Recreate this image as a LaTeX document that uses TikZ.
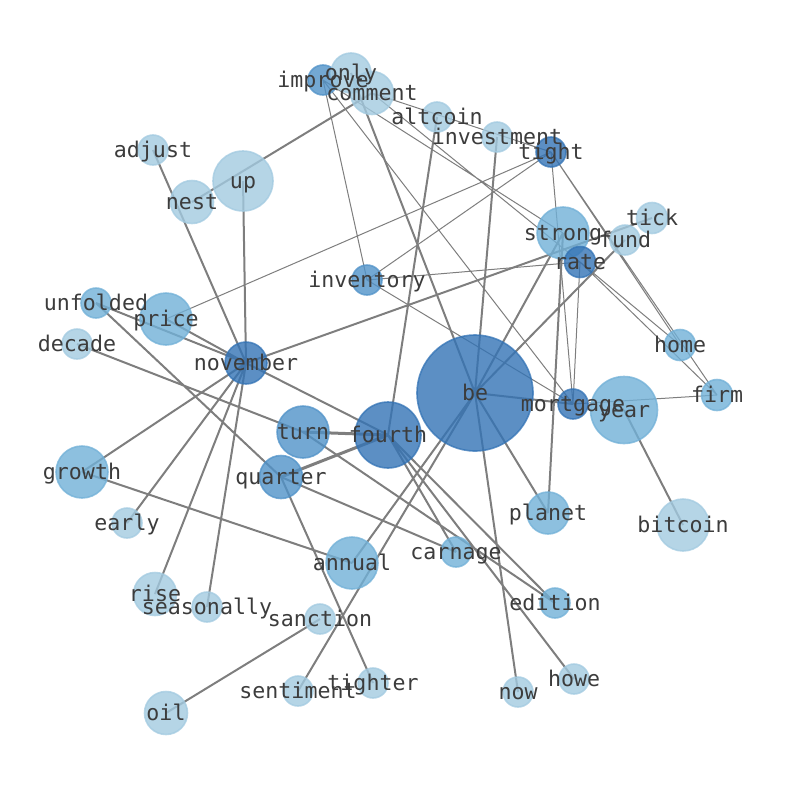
\documentclass[tikz,border=0pt]{standalone}
\usepackage{fontspec}
\usepackage{xcolor}
\usepackage{tikz}
\usetikzlibrary{backgrounds}
\newfontfamily\labelfont{DejaVu Sans Mono}

\definecolor{paleblue}{RGB}{162,202,224}
\definecolor{softblue}{RGB}{113,176,215}
\definecolor{deepblue}{RGB}{80,146,200}
\definecolor{darkblue}{RGB}{51,115,181}
\definecolor{edgegray}{RGB}{126,126,126}
\definecolor{labelgray}{RGB}{60,60,60}

\begin{document}
\begin{tikzpicture}[x=1pt, y=-1pt,
  word/.style={circle, inner sep=0pt, line width=1.6pt, fill opacity=0.8, draw opacity=0.75},
  pale/.style={word, fill=paleblue, draw=paleblue},
  soft/.style={word, fill=softblue, draw=softblue},
  deep/.style={word, fill=deepblue, draw=deepblue},
  dark/.style={word, fill=darkblue, draw=darkblue},
  tag/.style={font=\labelfont\fontsize{21.6}{24}\selectfont, text=labelgray, inner sep=0pt, text height=0.76em, text depth=0.24em, yshift=-5pt},
  thinedge/.style={edgegray, line width=1pt},
  thickedge/.style={edgegray, line width=2pt},
  heavyedge/.style={edgegray, line width=3pt}]
  \useasboundingbox (0,0) rectangle (794,790);

  % word circles
  \node [deep, minimum size=30] (improve) at (323,80) {};
  \node [pale, minimum size=40] (only) at (351,73) {};
  \node [pale, minimum size=43] (comment) at (372,93) {};
  \node [pale, minimum size=30] (altcoin) at (437,117) {};
  \node [pale, minimum size=30] (investment) at (497,137) {};
  \node [dark, minimum size=30] (tight) at (551,152) {};
  \node [pale, minimum size=30] (adjust) at (153,150) {};
  \node [pale, minimum size=60] (up) at (243,181) {};
  \node [pale, minimum size=43] (nest) at (192,202) {};
  \node [pale, minimum size=31] (tick) at (652,218) {};
  \node [pale, minimum size=30] (fund) at (625,240) {};
  \node [soft, minimum size=52] (strong) at (563,233) {};
  \node [dark, minimum size=31] (rate) at (580,262) {};
  \node [deep, minimum size=30] (inventory) at (367,280) {};
  \node [soft, minimum size=30] (unfolded) at (96,303) {};
  \node [soft, minimum size=52] (price) at (166,319) {};
  \node [pale, minimum size=30] (decade) at (77,344) {};
  \node [dark, minimum size=42] (november) at (246,363) {};
  \node [soft, minimum size=31] (home) at (680,345) {};
  \node [dark, minimum size=116] (be) at (475,393) {};
  \node [dark, minimum size=30] (mortgage) at (573,404) {};
  \node [soft, minimum size=67] (year) at (624,410) {};
  \node [soft, minimum size=31] (firm) at (717,395) {};
  \node [deep, minimum size=52] (turn) at (303,432) {};
  \node [dark, minimum size=66] (fourth) at (388,435) {};
  \node [soft, minimum size=52] (growth) at (82,472) {};
  \node [deep, minimum size=43] (quarter) at (281,477) {};
  \node [soft, minimum size=42] (planet) at (548,513) {};
  \node [pale, minimum size=52] (bitcoin) at (683,525) {};
  \node [pale, minimum size=30] (early) at (127,523) {};
  \node [soft, minimum size=30] (carnage) at (456,552) {};
  \node [soft, minimum size=52] (annual) at (352,563) {};
  \node [pale, minimum size=43] (rise) at (155,594) {};
  \node [pale, minimum size=30] (seasonally) at (207,607) {};
  \node [soft, minimum size=30] (edition) at (555,603) {};
  \node [pale, minimum size=30] (sanction) at (320,619) {};
  \node [pale, minimum size=30] (tighter) at (373,683) {};
  \node [pale, minimum size=30] (sentiment) at (298,691) {};
  \node [pale, minimum size=30] (now) at (518,692) {};
  \node [pale, minimum size=30] (howe) at (574,679) {};
  \node [pale, minimum size=43] (oil) at (166,713) {};

  % links, under the circles
  \begin{scope}[on background layer]
    \draw [thinedge] (improve.center) -- (inventory.center)
                     (improve.center) -- (strong.center)
                     (improve.center) -- (mortgage.center)
                     (comment.center) -- (tight.center)
                     (comment.center) -- (rate.center)
                     (tight.center) -- (price.center)
                     (tight.center) -- (inventory.center)
                     (tight.center) -- (mortgage.center)
                     (tight.center) -- (home.center)
                     (tight.center) -- (firm.center)
                     (inventory.center) -- (rate.center)
                     (inventory.center) -- (mortgage.center)
                     (rate.center) -- (home.center)
                     (rate.center) -- (firm.center)
                     (rate.center) -- (mortgage.center)
                     (mortgage.center) -- (firm.center);
    \draw [thickedge] (only.center) -- (be.center)
                      (nest.center) -- (comment.center)
                      (altcoin.center) -- (fourth.center)
                      (investment.center) -- (be.center)
                      (be.center) -- (fund.center)
                      (be.center) -- (strong.center)
                      (be.center) -- (mortgage.center)
                      (be.center) -- (planet.center)
                      (be.center) -- (now.center)
                      (be.center) -- (annual.center)
                      (be.center) -- (sentiment.center)
                      (strong.center) -- (planet.center)
                      (november.center) -- (tick.center)
                      (up.center) -- (november.center)
                      (adjust.center) -- (november.center)
                      (price.center) -- (november.center)
                      (unfolded.center) -- (november.center)
                      (november.center) -- (fourth.center)
                      (november.center) -- (growth.center)
                      (november.center) -- (early.center)
                      (november.center) -- (rise.center)
                      (november.center) -- (seasonally.center)
                      (decade.center) -- (turn.center)
                      (unfolded.center) -- (quarter.center)
                      (turn.center) -- (edition.center)
                      (quarter.center) -- (carnage.center)
                      (quarter.center) -- (tighter.center)
                      (fourth.center) -- (carnage.center)
                      (fourth.center) -- (edition.center)
                      (fourth.center) -- (howe.center)
                      (growth.center) -- (annual.center)
                      (sanction.center) -- (oil.center)
                      (year.center) -- (bitcoin.center);
    \draw [heavyedge] (turn.center) -- (fourth.center)
                      (quarter.center) -- (fourth.center);
  \end{scope}

  % words on top
  \node [tag] (improve-t) at (improve) {improve};
  \node [tag] (only-t) at (only) {only};
  \node [tag] (comment-t) at (comment) {comment};
  \node [tag] (altcoin-t) at (altcoin) {altcoin};
  \node [tag] (investment-t) at (investment) {investment};
  \node [tag] (tight-t) at (tight) {tight};
  \node [tag] (adjust-t) at (adjust) {adjust};
  \node [tag] (up-t) at (up) {up};
  \node [tag] (nest-t) at (nest) {nest};
  \node [tag] (tick-t) at (tick) {tick};
  \node [tag] (fund-t) at (fund) {fund};
  \node [tag] (strong-t) at (strong) {strong};
  \node [tag] (rate-t) at (rate) {rate};
  \node [tag] (inventory-t) at (inventory) {inventory};
  \node [tag] (unfolded-t) at (unfolded) {unfolded};
  \node [tag] (price-t) at (price) {price};
  \node [tag] (decade-t) at (decade) {decade};
  \node [tag] (november-t) at (november) {november};
  \node [tag] (home-t) at (home) {home};
  \node [tag] (be-t) at (be) {be};
  \node [tag] (mortgage-t) at (mortgage) {mortgage};
  \node [tag] (year-t) at (year) {year};
  \node [tag] (firm-t) at (firm) {firm};
  \node [tag] (turn-t) at (turn) {turn};
  \node [tag] (fourth-t) at (fourth) {fourth};
  \node [tag] (growth-t) at (growth) {growth};
  \node [tag] (quarter-t) at (quarter) {quarter};
  \node [tag] (planet-t) at (planet) {planet};
  \node [tag] (bitcoin-t) at (bitcoin) {bitcoin};
  \node [tag] (early-t) at (early) {early};
  \node [tag] (carnage-t) at (carnage) {carnage};
  \node [tag] (annual-t) at (annual) {annual};
  \node [tag] (rise-t) at (rise) {rise};
  \node [tag] (seasonally-t) at (seasonally) {seasonally};
  \node [tag] (edition-t) at (edition) {edition};
  \node [tag] (sanction-t) at (sanction) {sanction};
  \node [tag] (tighter-t) at (tighter) {tighter};
  \node [tag] (sentiment-t) at (sentiment) {sentiment};
  \node [tag] (now-t) at (now) {now};
  \node [tag] (howe-t) at (howe) {howe};
  \node [tag] (oil-t) at (oil) {oil};
\end{tikzpicture}
\end{document}
